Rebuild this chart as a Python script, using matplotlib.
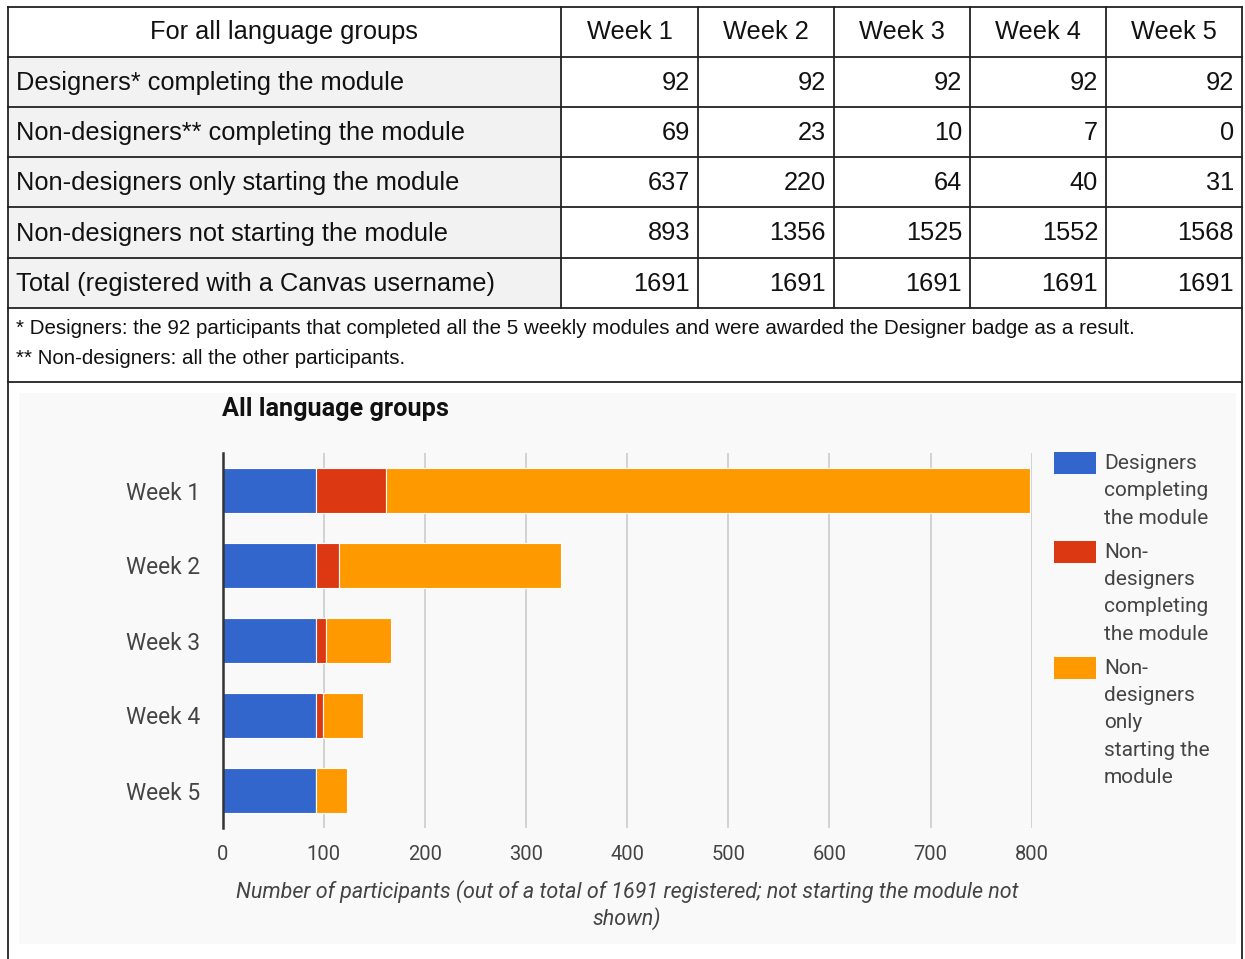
import numpy as np
import matplotlib
matplotlib.use('Agg')
import matplotlib.pyplot as plt
from matplotlib.patches import Rectangle
from matplotlib.lines import Line2D

# ===== Data =====
weeks = ['Week 1', 'Week 2', 'Week 3', 'Week 4', 'Week 5']
row_labels = ['Designers* completing the module',
              'Non-designers** completing the module',
              'Non-designers only starting the module',
              'Non-designers not starting the module',
              'Total (registered with a Canvas username)']
designers = [92, 92, 92, 92, 92]
nd_completing = [69, 23, 10, 7, 0]
nd_starting = [637, 220, 64, 40, 31]
nd_not_starting = [893, 1356, 1525, 1552, 1568]
total = [1691, 1691, 1691, 1691, 1691]

series_names = ['Designers\ncompleting\nthe module',
                'Non-\ndesigners\ncompleting\nthe module',
                'Non-\ndesigners\nonly\nstarting the\nmodule']
series_colors = ['#3366cc', '#dc3912', '#ff9900']
xticks = [0, 100, 200, 300, 400, 500, 600, 700, 800]

W, H = 1245, 959
fig = plt.figure(figsize=(W / 100, H / 100), dpi=100)
fig.patch.set_facecolor('white')


def fx(x):
    return x / W


def fy(y):
    return 1 - y / H


def hline(y, x0, x1, lw=1.3, c='#222222'):
    fig.add_artist(Line2D([fx(x0), fx(x1)], [fy(y), fy(y)], color=c, lw=lw))


def vline(x, y0, y1, lw=1.3, c='#222222'):
    fig.add_artist(Line2D([fx(x), fx(x)], [fy(y0), fy(y1)], color=c, lw=lw))


# ===== Table =====
tab_font = ['Liberation Sans', 'DejaVu Sans']
row_y = [7, 57, 107, 157, 207, 258, 308]
col_x = [8, 561, 698, 834, 970, 1106, 1242]

# grey label cells
for i in range(1, 6):
    fig.add_artist(Rectangle((fx(8), fy(row_y[i + 1])), fx(561 - 8),
                             (row_y[i + 1] - row_y[i]) / H,
                             facecolor='#f2f2f2', edgecolor='none'))

for yy in row_y + [382]:
    hline(yy, 8, 1242)
for xx in col_x:
    vline(xx, 7, 308)
vline(8, 308, 959)
vline(1242, 308, 959)

fs_tab = 18.3
fig.text(fx(284), fy(32), 'For all language groups', ha='center', va='center',
         fontsize=fs_tab, family=tab_font, color='#111111')
for j, w in enumerate(weeks):
    fig.text(fx((col_x[j + 1] + col_x[j + 2]) / 2), fy(32), w, ha='center', va='center',
             fontsize=fs_tab, family=tab_font, color='#111111')

table_rows = [designers, nd_completing, nd_starting, nd_not_starting, total]
for i, (lab, vals) in enumerate(zip(row_labels, table_rows)):
    yc = (row_y[i + 1] + row_y[i + 2]) / 2 + 1
    fig.text(fx(16), fy(yc), lab, ha='left', va='center',
             fontsize=fs_tab, family=tab_font, color='#111111')
    for j, v in enumerate(vals):
        fig.text(fx(col_x[j + 2] - 8), fy(yc), str(v), ha='right', va='center',
                 fontsize=fs_tab, family=tab_font, color='#111111')

note_font = ['Liberation Sans', 'DejaVu Sans']
fig.text(fx(16), fy(329), '* Designers: the 92 participants that completed all the 5 weekly modules '
         'and were awarded the Designer badge as a result.', ha='left', va='center',
         fontsize=14.75, family=note_font, color='#111111')
fig.text(fx(16), fy(358), '** Non-designers: all the other participants.', ha='left', va='center',
         fontsize=14.75, family=note_font, color='#111111')

# ===== Chart =====
chart_font = ['Roboto', 'DejaVu Sans']
fig.add_artist(Rectangle((fx(19), fy(944)), fx(1236 - 19), (944 - 393) / H,
                         facecolor='#f9f9f9', edgecolor='none', zorder=-1))

ax = fig.add_axes([fx(222.7), fy(828), fx(1031.7 - 222.7), (828 - 453) / H])
ax.set_zorder(2)
ax.patch.set_alpha(0)
ypos = np.arange(len(weeks))
left = np.zeros(len(weeks))
for vals, col in zip([designers, nd_completing, nd_starting], series_colors):
    ax.barh(ypos, vals, left=left, height=0.6, color=col, edgecolor='white', linewidth=0.8, zorder=3)
    left = left + np.array(vals)

ax.set_xlim(0, 800)
ax.set_ylim(4.5, -0.5)
ax.set_xticks(xticks)
ax.set_xticklabels([str(t) for t in xticks], family=chart_font, fontsize=14.5, color='#444444')
ax.set_yticks(ypos)
ax.set_yticklabels(weeks, family=chart_font, fontsize=16.4, color='#444444')
ax.tick_params(length=0)
ax.tick_params(axis='x', pad=12)
ax.tick_params(axis='y', pad=16)
ax.grid(axis='x', color='#cccccc', lw=1.2, zorder=0)
for s in ['top', 'right', 'bottom']:
    ax.spines[s].set_visible(False)
ax.spines['left'].set_color('#333333')
ax.spines['left'].set_linewidth(1.8)
ax.spines['left'].set_zorder(4)

ax.set_xlabel('Number of participants (out of a total of 1691 registered; not starting the module not\nshown)',
              family=chart_font, fontsize=15.5, style='italic', color='#444444',
              labelpad=12, linespacing=1.2)

fig.text(fx(222), fy(409), 'All language groups', ha='left', va='center',
         fontsize=18.2, family=chart_font, weight='bold', color='#111111')

# legend
leg_tops = [452, 541, 657]
for top, name, col in zip(leg_tops, series_names, series_colors):
    fig.add_artist(Rectangle((fx(1054), fy(top + 22)), fx(42), 22 / H,
                             facecolor=col, edgecolor='none'))
    fig.text(fx(1104), fy(top + 2), name, ha='left', va='top', fontsize=15,
             family=chart_font, color='#444444', linespacing=1.55)

fig.savefig('out.png', dpi=100, facecolor='white')
